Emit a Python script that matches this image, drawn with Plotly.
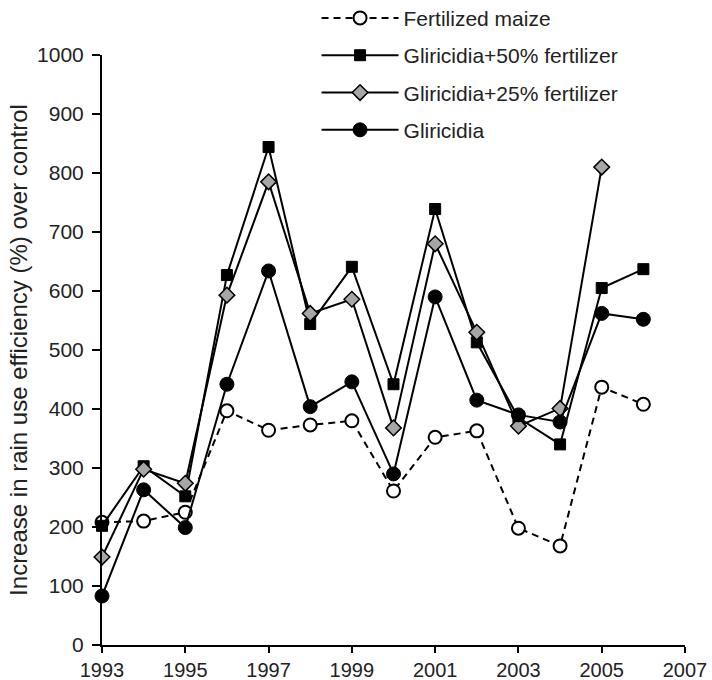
import plotly.graph_objects as go

years = list(range(1993, 2007))
fert_maize = [208, 210, 225, 397, 364, 373, 380, 261, 352, 363, 198, 168, 437, 408]
glir_50 = [202, 303, 252, 627, 844, 544, 641, 442, 739, 513, 385, 340, 605, 637]
years_25 = list(range(1993, 2006))
glir_25 = [149, 298, 274, 593, 785, 562, 586, 368, 680, 530, 371, 401, 810]
glir = [83, 263, 199, 442, 634, 404, 446, 290, 590, 415, 390, 378, 562, 552]

x_ticks = list(range(1993, 2008, 2))
y_ticks = list(range(0, 1001, 100))

FONT = "Liberation Sans, Arial, sans-serif"

fig = go.Figure()
fig.add_trace(go.Scatter(
    x=years, y=fert_maize, name="Fertilized maize", mode="lines+markers", legendgroup="a",
    line=dict(color="black", width=2, dash="7px,5px"),
    marker=dict(symbol="circle", size=13, color="white", line=dict(color="black", width=2)),
    cliponaxis=False))
fig.add_trace(go.Scatter(
    x=years, y=glir_50, name="Gliricidia+50% fertilizer", mode="lines+markers", legendgroup="b",
    line=dict(color="black", width=2),
    marker=dict(symbol="square", size=11, color="black", line=dict(color="black", width=1)),
    cliponaxis=False))
fig.add_trace(go.Scatter(
    x=years_25, y=glir_25, name="Gliricidia+25% fertilizer", mode="lines+markers", legendgroup="c",
    line=dict(color="black", width=2),
    marker=dict(symbol="diamond", size=12, color="#a6a6a6", line=dict(color="black", width=1.5)),
    cliponaxis=False))
fig.add_trace(go.Scatter(
    x=years, y=glir, name="Gliricidia", mode="lines+markers", legendgroup="d",
    line=dict(color="black", width=2),
    marker=dict(symbol="circle", size=14, color="black", line=dict(color="black", width=1)),
    cliponaxis=False))

fig.update_layout(
    width=712, height=680,
    margin=dict(l=102, r=27, t=55, b=35, autoexpand=False),
    paper_bgcolor="white", plot_bgcolor="white",
    font=dict(family=FONT, color="#222222", size=21),
    showlegend=True,
    legend=dict(x=0.368, y=1.097, xanchor="left", yanchor="top",
                bgcolor="rgba(0,0,0,0)", font=dict(size=21, family=FONT),
                tracegroupgap=7, itemwidth=77),
    xaxis=dict(range=[1993, 2007], tickvals=x_ticks, ticktext=[str(v) for v in x_ticks],
               showline=True, linecolor="black", linewidth=2, ticks="outside",
               tickcolor="black", tickwidth=2, ticklen=6, showgrid=False, zeroline=False,
               tickfont=dict(size=20), automargin=False),
    yaxis=dict(range=[0, 1000], tickvals=y_ticks, showline=True, linecolor="black",
               linewidth=2, ticks="outside", tickcolor="black", tickwidth=2, ticklen=8,
               ticklabelstandoff=4,
               showgrid=False, zeroline=False, tickfont=dict(size=21), automargin=False,
               title=dict(text="Increase in rain use efficiency (%) over control",
                          font=dict(size=24), standoff=3)),
)

fig.write_html("out.html")
